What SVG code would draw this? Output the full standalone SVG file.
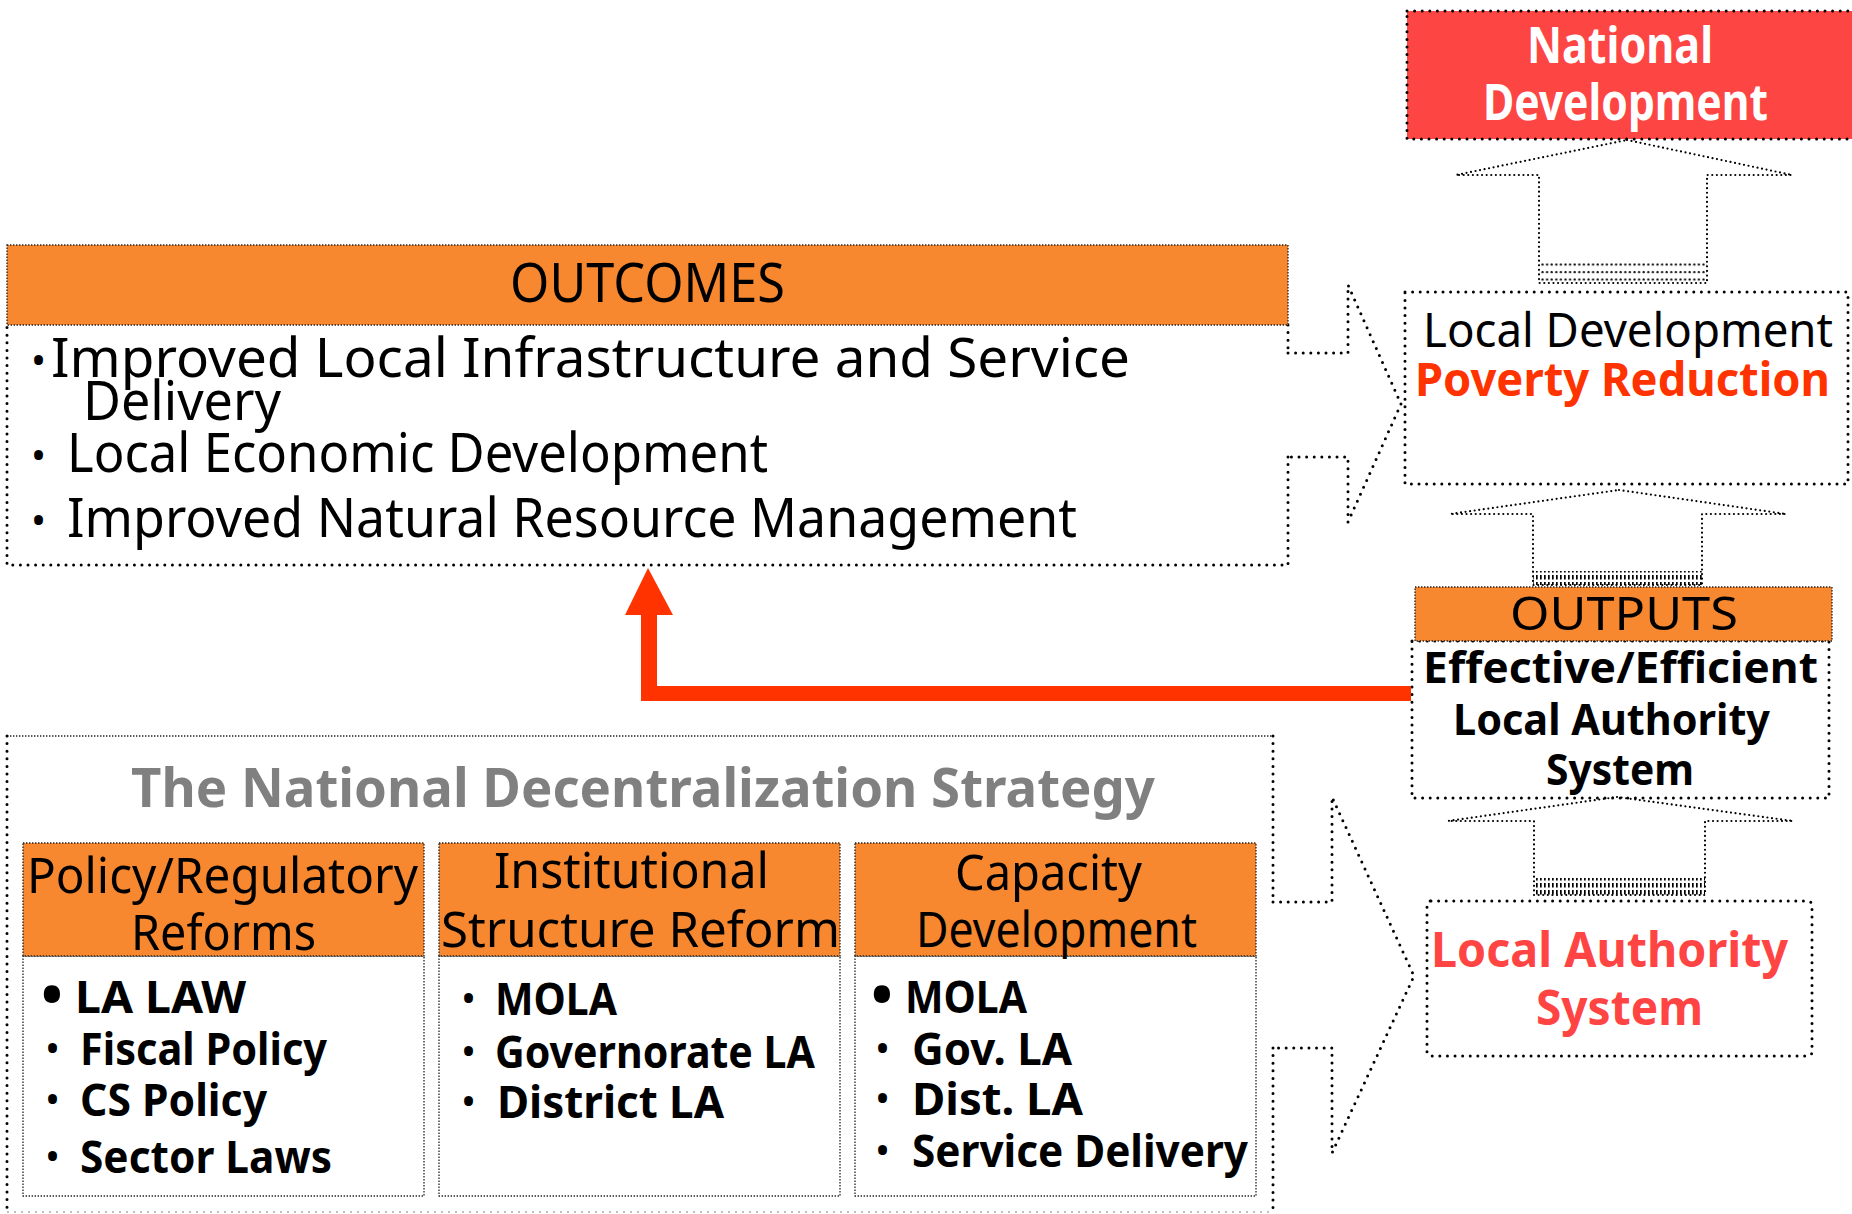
<svg xmlns="http://www.w3.org/2000/svg" width="1852" height="1214" viewBox="0 0 1852 1214">
<style>
text { font-family: 'Comic Sans MS', 'Noto Sans', sans-serif; fill:#000; }
.b { font-weight:bold; }
.big { fill:none; stroke:#000; stroke-width:3; stroke-linecap:round; stroke-dasharray:0 7.6; }
.med { fill:none; stroke:#000; stroke-width:2.2; stroke-linecap:round; stroke-dasharray:0 4.6; }
.fine { stroke:#222; stroke-width:1.3; stroke-dasharray:1.4 1.6; }
.fineGray { fill:none; stroke:#aaa; stroke-width:1.3; stroke-dasharray:2 5; }
.orange { fill:#F7882F; }
.bul { font-size:40px; }
.bulB { font-size:58px; font-weight:bold; }
.hdr { font-size:50px; }
.item { font-size:44px; font-weight:bold; }
.oc { font-size:54px; }
</style>
<defs>
<pattern id="hatchV" width="4" height="7" patternUnits="userSpaceOnUse"><rect x="0" y="1" width="1.7" height="4.5" fill="#000"/></pattern>
<pattern id="hatchD" width="4.6" height="7.5" patternUnits="userSpaceOnUse"><circle cx="1.5" cy="2" r="1.1" fill="#000"/></pattern>
</defs>

<!-- National Development -->
<g id="national-dev">
<rect x="1407" y="11" width="460" height="128" fill="#FD4543"/>
<rect x="1407" y="11" width="460" height="128" class="big"/>
<text class="b" x="1527" y="63" font-size="50" textLength="186" lengthAdjust="spacingAndGlyphs" style="fill:#fff">National</text>
<text class="b" x="1483" y="120" font-size="50" textLength="285" lengthAdjust="spacingAndGlyphs" style="fill:#fff">Development</text>
</g>

<!-- Local Development -->
<g id="local-dev">
<rect x="1405" y="292" width="443" height="192" fill="#fff" class="big"/>
<text x="1423" y="347" font-size="47" textLength="410" lengthAdjust="spacingAndGlyphs">Local Development</text>
<text class="b" x="1415" y="396" font-size="47" textLength="415" lengthAdjust="spacingAndGlyphs" style="fill:#FF3300">Poverty Reduction</text>
</g>

<!-- Outputs -->
<g id="outputs">
<rect x="1412" y="641" width="417" height="157" fill="#fff" class="big"/>
<rect x="1415" y="587" width="417" height="54" class="orange fine"/>
<text x="1510" y="630" font-size="46" textLength="228" lengthAdjust="spacingAndGlyphs">OUTPUTS</text>
<text class="b" x="1423" y="683" font-size="43" textLength="395" lengthAdjust="spacingAndGlyphs">Effective/Efficient</text>
<text class="b" x="1453" y="735" font-size="43" textLength="317" lengthAdjust="spacingAndGlyphs">Local Authority</text>
<text class="b" x="1546" y="785" font-size="43" textLength="148" lengthAdjust="spacingAndGlyphs">System</text>
</g>

<!-- Local Authority System -->
<g id="local-authority">
<rect x="1427" y="901" width="385" height="155" rx="4" fill="#fff" class="big"/>
<text class="b" x="1431" y="967" font-size="49" textLength="357" lengthAdjust="spacingAndGlyphs" style="fill:#FF4444">Local Authority</text>
<text class="b" x="1536" y="1025" font-size="49" textLength="167" lengthAdjust="spacingAndGlyphs" style="fill:#FF4444">System</text>
</g>

<!-- Outcomes -->
<g id="outcomes">
<path d="M1288 325 L1288 353 M1288 457 L1288 565 L7 565 L7 325" class="big"/>
<rect x="7" y="245" width="1281" height="80" class="orange fine"/>
<text x="510" y="302" class="oc" textLength="275" lengthAdjust="spacingAndGlyphs">OUTCOMES</text>
<text x="31" y="375" class="bul">•</text>
<text x="51" y="377" class="oc" textLength="1079" lengthAdjust="spacingAndGlyphs">Improved Local Infrastructure and Service</text>
<text x="83" y="420" class="oc" textLength="198" lengthAdjust="spacingAndGlyphs">Delivery</text>
<text x="31" y="470" class="bul">•</text>
<text x="67" y="472" class="oc" textLength="701" lengthAdjust="spacingAndGlyphs">Local Economic Development</text>
<text x="31" y="535" class="bul">•</text>
<text x="67" y="537" class="oc" textLength="1010" lengthAdjust="spacingAndGlyphs">Improved Natural Resource Management</text>
</g>

<!-- National Decentralization Strategy -->
<g id="nds">
<path d="M7 736 L1273 736" class="fine" fill="none"/>
<path d="M7 736 L7 1213" class="big"/>
<path d="M7 1212 L1273 1212" class="fineGray"/>
<path d="M1273 736 L1273 902 M1273 1048 L1273 1213" class="big"/>
<text class="b" x="131" y="807" font-size="54" textLength="1024" lengthAdjust="spacingAndGlyphs" style="fill:#808080">The National Decentralization Strategy</text>
</g>

<g id="col-policy">
<rect x="23" y="956" width="401" height="240" fill="#fff" class="fine"/>
<rect x="23" y="843" width="401" height="113" class="orange fine"/>
<text x="27" y="893" class="hdr" textLength="391" lengthAdjust="spacingAndGlyphs">Policy/Regulatory</text>
<text x="131" y="950" class="hdr" textLength="185" lengthAdjust="spacingAndGlyphs">Reforms</text>
<text x="41" y="1015" class="bulB">•</text>
<text x="75" y="1013" class="item" textLength="171" lengthAdjust="spacingAndGlyphs">LA LAW</text>
<text x="45" y="1063" class="bul">•</text>
<text x="80" y="1065" class="item" textLength="247" lengthAdjust="spacingAndGlyphs">Fiscal Policy</text>
<text x="45" y="1114" class="bul">•</text>
<text x="80" y="1116" class="item" textLength="187" lengthAdjust="spacingAndGlyphs">CS Policy</text>
<text x="45" y="1171" class="bul">•</text>
<text x="80" y="1173" class="item" textLength="252" lengthAdjust="spacingAndGlyphs">Sector Laws</text>
</g>

<g id="col-institutional">
<rect x="439" y="956" width="401" height="240" fill="#fff" class="fine"/>
<rect x="439" y="843" width="401" height="113" class="orange fine"/>
<text x="494" y="888" class="hdr" textLength="275" lengthAdjust="spacingAndGlyphs">Institutional</text>
<text x="441" y="947" class="hdr" textLength="399" lengthAdjust="spacingAndGlyphs">Structure Reform</text>
<text x="461" y="1013" class="bul">•</text>
<text x="495" y="1015" class="item" textLength="122" lengthAdjust="spacingAndGlyphs">MOLA</text>
<text x="461" y="1066" class="bul">•</text>
<text x="495" y="1068" class="item" textLength="320" lengthAdjust="spacingAndGlyphs">Governorate LA</text>
<text x="461" y="1116" class="bul">•</text>
<text x="497" y="1118" class="item" textLength="227" lengthAdjust="spacingAndGlyphs">District LA</text>
</g>

<g id="col-capacity">
<rect x="855" y="956" width="401" height="240" fill="#fff" class="fine"/>
<rect x="855" y="843" width="401" height="113" class="orange fine"/>
<text x="955" y="890" class="hdr" textLength="187" lengthAdjust="spacingAndGlyphs">Capacity</text>
<text x="916" y="947" class="hdr" textLength="281" lengthAdjust="spacingAndGlyphs">Development</text>
<text x="871" y="1015" class="bulB">•</text>
<text x="905" y="1013" class="item" textLength="122" lengthAdjust="spacingAndGlyphs">MOLA</text>
<text x="875" y="1063" class="bul">•</text>
<text x="912" y="1065" class="item" textLength="160" lengthAdjust="spacingAndGlyphs">Gov. LA</text>
<text x="875" y="1113" class="bul">•</text>
<text x="912" y="1115" class="item" textLength="171" lengthAdjust="spacingAndGlyphs">Dist. LA</text>
<text x="875" y="1165" class="bul">•</text>
<text x="912" y="1167" class="item" textLength="336" lengthAdjust="spacingAndGlyphs">Service Delivery</text>
</g>

<!-- Connectors -->
<g id="connectors">
<!-- Outcomes -> Local Development -->
<path d="M1288 353 L1348 353 L1348 285 L1401 404 L1348 522 L1348 457 L1288 457" class="big"/>
<!-- NDS -> Local Authority System -->
<path d="M1273 902 L1332 902 L1332 797 L1414 976 L1332 1153 L1332 1048 L1273 1048" class="big"/>
<!-- Local Development -> National Development -->
<rect x="1539" y="260" width="168" height="23" fill="url(#hatchD)"/>
<path d="M1627 140 L1792 175 L1707 175 L1707 283 L1539 283 L1539 175 L1456 175 Z" class="med"/>
<!-- Outputs -> Local Development -->
<rect x="1533" y="571" width="169" height="14" fill="url(#hatchV)"/>
<path d="M1619 490 L1786 514 L1702 514 L1702 585 L1533 585 L1533 514 L1450 514 Z" class="med"/>
<!-- Local Authority System -> Outputs -->
<rect x="1534" y="878" width="171" height="17" fill="url(#hatchV)"/>
<path d="M1617 797 L1793 821 L1705 821 L1705 895 L1534 895 L1534 821 L1448 821 Z" class="med"/>
<!-- Outputs -> Outcomes (red) -->
<path d="M1411 686 L1411 701 L641 701 L641 615 L625 615 L648 568 L673 615 L657 615 L657 686 Z" fill="#FF3300"/>
</g>
</svg>
